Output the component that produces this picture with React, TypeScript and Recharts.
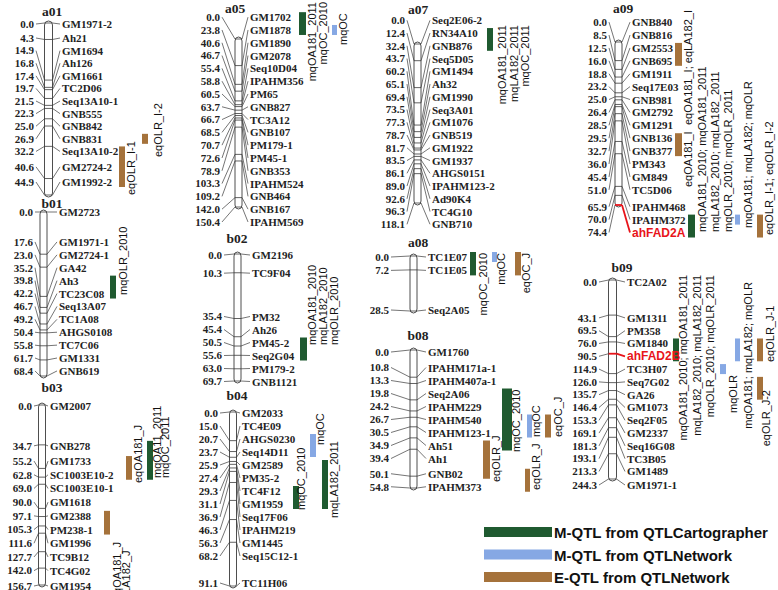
import React from 'react';
import { ComposedChart, XAxis, YAxis, Scatter, ReferenceArea } from 'recharts';

const W = 778;
const H = 590;

// ---------------- data ----------------
const a01Markers = ['GM1971-2', 'Ah21', 'GM1694', 'Ah126', 'GM1661', 'TC2D06', 'Seq13A10-1', 'GNB555', 'GNB842', 'GNB831', 'Seq13A10-2', 'GM2724-2', 'GM1992-2'];
const a01Pos = [0.0, 4.3, 14.9, 16.8, 17.4, 19.7, 21.5, 22.3, 25.0, 26.9, 32.2, 40.6, 44.9];

const b01Markers = ['GM2723', 'GM1971-1', 'GM2724-1', 'GA42', 'Ah3', 'TC23C08', 'Seq13A07', 'TC1A08', 'AHGS0108', 'TC7C06', 'GM1331', 'GNB619'];
const b01Pos = [0.0, 17.6, 23.0, 35.2, 39.8, 42.2, 46.7, 49.2, 50.4, 55.8, 61.7, 68.4];

const b03Markers = ['GM2007', 'GNB278', 'GM1733', 'SC1003E10-2', 'SC1003E10-1', 'GM1618', 'GM2388', 'PM238-1', 'GM1996', 'TC9B12', 'TC4G02', 'GM1954'];
const b03Pos = [0.0, 34.7, 55.2, 62.8, 69.0, 90.0, 97.1, 105.3, 111.6, 127.7, 142.0, 156.7];

const a05Markers = ['GM1702', 'GM1878', 'GM1890', 'GM2078', 'Seq10D04', 'IPAHM356', 'PM65', 'GNB827', 'TC3A12', 'GNB107', 'PM179-1', 'PM45-1', 'GNB353', 'IPAHM524', 'GNB464', 'GNB167', 'IPAHM569'];
const a05Pos = [0.0, 23.8, 40.6, 46.7, 55.4, 58.8, 60.5, 63.7, 66.7, 68.5, 70.7, 72.6, 78.9, 103.3, 109.2, 142.0, 150.4];

const b02Markers = ['GM2196', 'TC9F04', 'PM32', 'Ah26', 'PM45-2', 'Seq2G04', 'PM179-2', 'GNB1121'];
const b02Pos = [0.0, 10.3, 35.4, 45.4, 50.5, 55.6, 63.0, 69.7];

const b04Markers = ['GM2033', 'TC4E09', 'AHGS0230', 'Seq14D11', 'GM2589', 'PM35-2', 'TC4F12', 'GM1959', 'Seq17F06', 'IPAHM219', 'GM1445', 'Seq15C12-1', 'TC11H06'];
const b04Pos = [0.0, 15.0, 20.7, 23.7, 25.9, 27.4, 29.3, 31.1, 36.9, 46.3, 56.3, 68.2, 91.1];

const a07Markers = ['Seq2E06-2', 'RN34A10', 'GNB876', 'Seq5D05', 'GM1494', 'Ah32', 'GM1990', 'Seq3A01', 'GM1076', 'GNB519', 'GM1922', 'GM1937', 'AHGS0151', 'IPAHM123-2', 'Ad90K4', 'TC4G10', 'GNB710'];
const a07Pos = [0.0, 12.4, 32.4, 43.7, 60.2, 65.1, 69.4, 73.5, 77.3, 78.7, 81.7, 83.5, 86.1, 89.0, 92.6, 96.3, 118.1];

const a08Markers = ['TC1E07', 'TC1E05', 'Seq2A05'];
const a08Pos = [0.0, 7.2, 28.5];

const b08Markers = ['GM1760', 'IPAHM171a-1', 'IPAHM407a-1', 'Seq2A06', 'IPAHM229', 'IPAHM540', 'IPAHM123-1', 'Ah51', 'Ah1', 'GNB02', 'IPAHM373'];
const b08Pos = [0.0, 10.8, 13.3, 19.8, 24.2, 26.7, 30.5, 34.9, 39.4, 50.1, 54.8];

const a09Markers = ['GNB840', 'GNB816', 'GM2553', 'GNB695', 'GM1911', 'Seq17E03', 'GNB981', 'GM2792', 'GM1291', 'GNB136', 'GNB377', 'PM343', 'GM849', 'TC5D06', 'IPAHM468', 'IPAHM372', 'ahFAD2A'];
const a09Pos = [0.0, 8.5, 12.5, 16.0, 18.8, 23.2, 25.0, 26.4, 28.5, 29.5, 32.7, 36.0, 45.4, 51.0, 65.9, 70.0, 74.4];

const b09Markers = ['TC2A02', 'GM1311', 'PM358', 'GM1840', 'ahFAD2B', 'TC3H07', 'Seq7G02', 'GA26', 'GM1073', 'Seq2F05', 'GM2337', 'Seq16G08', 'TC3B05', 'GM1489', 'GM1971-1'];
const b09Pos = [0.0, 43.1, 69.5, 76.0, 90.5, 114.9, 126.0, 135.7, 146.4, 153.3, 169.1, 181.3, 193.1, 213.3, 244.3];

const highlightGenes = ['ahFAD2A', 'ahFAD2B'];

type QtlKind = 'cart' | 'net' | 'e';
interface Qtl { from: string; to: string; kind: QtlKind; text: string[] }

const a01Qtl: Qtl[] = [
  { from: 'Seq13A10-2', to: 'GM1992-2', kind: 'e', text: ['eqOLR_I-1'] },
  { from: 'GNB831', to: 'GNB831', kind: 'e', text: ['eqOLR_I-2'] },
];
const b01Qtl: Qtl[] = [
  { from: 'Ah3', to: 'TC23C08', kind: 'cart', text: ['mqOLR_2010'] },
];
const b03Qtl: Qtl[] = [
  { from: 'GM1733', to: 'SC1003E10-2', kind: 'e', text: ['eqOA181_J'] },
  { from: 'GNB278', to: 'SC1003E10-2', kind: 'cart', text: ['mqOA11_2011', 'mqOC_2011'] },
  { from: 'GM2388', to: 'PM238-1', kind: 'e', text: ['eqOA181_J', 'eLA182_J'] },
];
const a05Qtl: Qtl[] = [
  { from: 'GM1702', to: 'GM1878', kind: 'cart', text: ['mqOA181_2011', 'mqOC_2010'] },
  { from: 'GM1878', to: 'GM1878', kind: 'net', text: ['mqOC'] },
];
const b02Qtl: Qtl[] = [
  { from: 'PM45-2', to: 'Seq2G04', kind: 'cart', text: ['mqOA181_2010', 'mqLA182_2010', 'mqOLR_2010'] },
];
const b04Qtl: Qtl[] = [
  { from: 'TC4F12', to: 'GM1959', kind: 'cart', text: ['mqOC_2010'] },
  { from: 'AHGS0230', to: 'Seq14D11', kind: 'net', text: ['mqOC'] },
  { from: 'GM2589', to: 'GM1959', kind: 'cart', text: ['mqLA182_2011'] },
];
const a07Qtl: Qtl[] = [
  { from: 'RN34A10', to: 'GNB876', kind: 'cart', text: ['mqOA181_2011', 'mqLA182_2011', 'mqOC_2011'] },
];
const a08Qtl: Qtl[] = [
  { from: 'TC1E07', to: 'TC1E05', kind: 'cart', text: ['mqOC_2010'] },
  { from: 'TC1E07', to: 'TC1E07', kind: 'net', text: ['mqOC'] },
  { from: 'TC1E07', to: 'TC1E05', kind: 'e', text: ['eqOC_J'] },
];
const b08Qtl: Qtl[] = [
  { from: 'Seq2A06', to: 'Ah51', kind: 'cart', text: ['mqOC_2010'] },
  { from: 'IPAHM540', to: 'IPAHM123-1', kind: 'net', text: ['mqOC'] },
  { from: 'IPAHM540', to: 'IPAHM123-1', kind: 'e', text: ['eqOC_J'] },
  { from: 'Ah51', to: 'GNB02', kind: 'e', text: ['eqOLR_J'] },
  { from: 'GNB02', to: 'IPAHM373', kind: 'e', text: ['eqOLR_J'] },
];
const a09Qtl: Qtl[] = [
  { from: 'GM2553', to: 'GNB695', kind: 'e', text: ['eqOA181_I; eqLA182_I'] },
  { from: 'GNB136', to: 'GNB377', kind: 'e', text: ['eqOA181_I'] },
  { from: 'IPAHM372', to: 'ahFAD2A', kind: 'cart', text: ['mqOA181_2010; mqOA181_2011', 'mqLA182_2010; mqLA182_2011', 'mqOLR_2010; mqOLR_2011'] },
  { from: 'IPAHM372', to: 'IPAHM372', kind: 'net', text: ['mqOA181; mqLA182; mqOLR'] },
  { from: 'IPAHM372', to: 'ahFAD2A', kind: 'e', text: ['eqOLR_I-1; eqOLR_I-2'] },
];
const b09Qtl: Qtl[] = [
  { from: 'GM1840', to: 'ahFAD2B', kind: 'cart', text: ['mqOA181_2010; mqOA181_2011', 'mqLA182_2010; mqLA182_2011', 'mqOLR_2010; mqOLR_2011'] },
  { from: 'TC3H07', to: 'TC3H07', kind: 'net', text: ['mqOLR'] },
  { from: 'GM1840', to: 'ahFAD2B', kind: 'net', text: ['mqOA181; mqLA182; mqOLR'] },
  { from: 'GM1840', to: 'ahFAD2B', kind: 'e', text: ['eqOLR_J-1'] },
  { from: 'Seq7G02', to: 'GA26', kind: 'e', text: ['eqOLR_J-2'] },
];

const legendLabels = ['M-QTL from QTLCartographer', 'M-QTL from QTLNetwork', 'E-QTL from QTLNetwork'];
const legendKinds: QtlKind[] = ['cart', 'net', 'e'];

// ---------------- styles / layout ----------------
const kindColor: Record<QtlKind, string> = { cart: '#1f5a30', net: '#86a8e4', e: '#a5723b' };
const RED = '#e8141a';
const LINE = '#3a3a3a';
const SERIF = "'Liberation Serif', 'Times New Roman', serif";
const SANS = "'Liberation Sans', Arial, sans-serif";

interface QPlace { x: number; w: number; tx: number; sp?: number; ty: number; a: 'start' | 'end' }
interface GLayout {
  cx: number; cw: number; top: number; bottom: number; // chromosome (axis) extent in px
  lt: number; lb: number; gap: number; minY?: number; maxY?: number; // label layout
  cmRight: number; nameLeft: number; titleX: number; titleY: number; q: QPlace[];
}

const layout: Record<string, GLayout> = {
  a01: { cx: 48.5, cw: 8, top: 23, bottom: 195, lt: 24, lb: 182, gap: 12.6, cmRight: 34, nameLeft: 62, titleX: 52, titleY: 16,
    q: [{ x: 119, w: 6, tx: 135, ty: 195, a: 'start' }, { x: 142, w: 6, tx: 162, ty: 157, a: 'start' }] },
  b01: { cx: 43.5, cw: 7, top: 212, bottom: 376, lt: 212, lb: 357, gap: 12.9, cmRight: 33, nameLeft: 59, titleX: 52, titleY: 208,
    q: [{ x: 110, w: 6, tx: 127, ty: 295, a: 'start' }] },
  b03: { cx: 42, cw: 7, top: 405, bottom: 585, lt: 406, lb: 586, gap: 13.7, cmRight: 32, nameLeft: 50, titleX: 52, titleY: 392,
    q: [{ x: 126, w: 6, tx: 142, ty: 483, a: 'start' }, { x: 147, w: 6, tx: 161, sp: 8, ty: 478, a: 'start' }, { x: 104, w: 6, tx: 121, sp: 9, ty: 600, a: 'start' }] },
  a05: { cx: 238.5, cw: 7, top: 39, bottom: 207, lt: 39, lb: 209, gap: 12.8, cmRight: 220, nameLeft: 250, titleX: 235, titleY: 13,
    q: [{ x: 299, w: 7, tx: 316, sp: 11, ty: 2, a: 'end' }, { x: 332, w: 5, tx: 347, ty: 45, a: 'start' }] },
  b02: { cx: 237.5, cw: 7, top: 254, bottom: 381, lt: 255, lb: 378, gap: 13, cmRight: 222, nameLeft: 252, titleX: 237, titleY: 243,
    q: [{ x: 300, w: 7, tx: 316, sp: 11, ty: 345, a: 'start' }] },
  b04: { cx: 233, cw: 7, top: 412, bottom: 586, lt: 413, lb: 583, gap: 13, minY: 413, cmRight: 218, nameLeft: 242, titleX: 237, titleY: 400,
    q: [{ x: 293, w: 6, tx: 305, ty: 510, a: 'start' }, { x: 310, w: 6, tx: 324, ty: 445, a: 'start' }, { x: 322, w: 6, tx: 338, ty: 518, a: 'start' }] },
  a07: { cx: 417.5, cw: 7, top: 44, bottom: 203, lt: 42, lb: 181, gap: 12.75, cmRight: 405, nameLeft: 432, titleX: 418, titleY: 14,
    q: [{ x: 487, w: 6, tx: 506, sp: 11.5, ty: 25, a: 'end' }] },
  a08: { cx: 413.5, cw: 7, top: 256, bottom: 311, lt: 257, lb: 310, gap: 13, cmRight: 389, nameLeft: 428, titleX: 418, titleY: 247,
    q: [{ x: 470, w: 6, tx: 487, ty: 253, a: 'end' }, { x: 492, w: 5, tx: 505, ty: 253, a: 'end' }, { x: 515, w: 6, tx: 530, ty: 253, a: 'end' }] },
  b08: { cx: 413.5, cw: 7, top: 350, bottom: 488, lt: 352, lb: 486, gap: 13, cmRight: 389, nameLeft: 428, titleX: 418, titleY: 340,
    q: [{ x: 502, w: 10, tx: 520, ty: 452, a: 'start' }, { x: 527, w: 5, tx: 540, ty: 437, a: 'start' }, { x: 545, w: 6, tx: 562, ty: 437, a: 'start' },
        { x: 483, w: 7, tx: 500, ty: 482, a: 'start' }, { x: 525, w: 5, tx: 540, ty: 490, a: 'start' }] },
  a09: { cx: 618.5, cw: 7, top: 42, bottom: 205, lt: 42, lb: 230.5, gap: 12.9, cmRight: 607, nameLeft: 632, titleX: 623, titleY: 13,
    q: [{ x: 675, w: 7, tx: 692, ty: 125, a: 'start' }, { x: 675, w: 7, tx: 692, ty: 187, a: 'start' },
        { x: 688, w: 7, tx: 706, sp: 13, ty: 232, a: 'start' }, { x: 735, w: 5, tx: 752, ty: 228, a: 'start' }, { x: 757, w: 6, tx: 773, ty: 235, a: 'start' }] },
  b09: { cx: 612.5, cw: 8, top: 280, bottom: 479, lt: 282, lb: 491, gap: 12.8, maxY: 485, cmRight: 597, nameLeft: 627, titleX: 622, titleY: 272,
    q: [{ x: 673, w: 6, tx: 687, sp: 13.5, ty: 275, a: 'end' }, { x: 720, w: 6, tx: 737, ty: 375, a: 'end' },
        { x: 735, w: 5, tx: 752, ty: 282, a: 'end' }, { x: 757, w: 6, tx: 774, ty: 362, a: 'start' }, { x: 757, w: 6, tx: 770, ty: 390, a: 'end' }] },
};

const groups = [
  { id: 'a01', markers: a01Markers, pos: a01Pos, qtl: a01Qtl },
  { id: 'b01', markers: b01Markers, pos: b01Pos, qtl: b01Qtl },
  { id: 'b03', markers: b03Markers, pos: b03Pos, qtl: b03Qtl },
  { id: 'a05', markers: a05Markers, pos: a05Pos, qtl: a05Qtl },
  { id: 'b02', markers: b02Markers, pos: b02Pos, qtl: b02Qtl },
  { id: 'b04', markers: b04Markers, pos: b04Pos, qtl: b04Qtl },
  { id: 'a07', markers: a07Markers, pos: a07Pos, qtl: a07Qtl },
  { id: 'a08', markers: a08Markers, pos: a08Pos, qtl: a08Qtl },
  { id: 'b08', markers: b08Markers, pos: b08Pos, qtl: b08Qtl },
  { id: 'a09', markers: a09Markers, pos: a09Pos, qtl: a09Qtl },
  { id: 'b09', markers: b09Markers, pos: b09Pos, qtl: b09Qtl },
];

// spread labels so they keep a minimum gap; clusters centred on their ideal positions
function spread(ideal: number[], gap: number, minY?: number, maxY?: number): number[] {
  type C = { i0: number; i1: number; top: number };
  const cs: C[] = ideal.map((y, i) => ({ i0: i, i1: i, top: y }));
  let changed = true;
  while (changed) {
    changed = false;
    for (let k = 0; k < cs.length - 1; k++) {
      const a = cs[k];
      const b = cs[k + 1];
      if (b.top - (a.top + (a.i1 - a.i0) * gap) < gap - 1e-6) {
        const i0 = a.i0;
        const i1 = b.i1;
        let s = 0;
        for (let i = i0; i <= i1; i++) s += ideal[i];
        const n = i1 - i0 + 1;
        cs.splice(k, 2, { i0, i1, top: s / n - ((n - 1) * gap) / 2 });
        changed = true;
        break;
      }
    }
  }
  const out: number[] = new Array(ideal.length);
  cs.forEach((c) => {
    for (let i = c.i0; i <= c.i1; i++) out[i] = c.top + (i - c.i0) * gap;
  });
  if (minY !== undefined) {
    out[0] = Math.max(out[0], minY);
    for (let i = 1; i < out.length; i++) out[i] = Math.max(out[i], out[i - 1] + gap);
  }
  if (maxY !== undefined) {
    const n = out.length;
    out[n - 1] = Math.min(out[n - 1], maxY);
    for (let i = n - 2; i >= 0; i--) out[i] = Math.min(out[i], out[i + 1] - gap);
  }
  return out;
}

function ChromShape(p: any) {
  const { x, y, width, height } = p;
  return (
    <rect x={x} y={y - 2} width={width} height={height + 4} rx={width / 2} ry={4}
      fill="none" stroke={LINE} strokeWidth={0.9} />
  );
}

function Group({ id, markers, pos, qtl }: { id: string; markers: string[]; pos: number[]; qtl: Qtl[] }) {
  const g = layout[id];
  const len = pos[pos.length - 1];
  const k = (g.bottom - g.top) / len;
  const kl = (g.lb - g.lt) / len;
  const ly = spread(pos.map((p) => g.lt + p * kl), g.gap, g.minY, g.maxY);
  const rows = markers.map((name, i) => ({ name, cM: pos[i], x: g.cx, ly: ly[i] }));
  const idx = (n: string) => markers.indexOf(n);
  const toCM = (px: number) => (px - g.top) / k;

  const markerShape = (s: any) => {
    const { cx, cy, payload } = s;
    const hl = highlightGenes.includes(payload.name);
    const x0 = cx - g.cw / 2;
    const x1 = cx + g.cw / 2;
    const y = payload.ly;
    return (
      <g>
        <line x1={x0} y1={cy} x2={x1} y2={cy} stroke={hl ? RED : LINE} strokeWidth={hl ? 1.8 : 0.8} />
        <line x1={g.cmRight + 2} y1={y} x2={x0} y2={cy} stroke={LINE} strokeWidth={0.7} />
        <line x1={x1} y1={cy} x2={g.nameLeft - 2} y2={y} stroke={hl ? RED : LINE} strokeWidth={hl ? 1.8 : 0.7} />
        <text x={g.cmRight} y={y + 3.8} textAnchor="end" fontFamily={SERIF} fontWeight="bold" fontSize={11} fill="#222">
          {payload.cM.toFixed(1)}
        </text>
        <text x={g.nameLeft} y={y + 4} fontFamily={hl ? SANS : SERIF} fontWeight="bold" fontSize={hl ? 12 : 11} fill={hl ? RED : '#222'}>
          {payload.name}
        </text>
      </g>
    );
  };

  return (
    <div style={{ position: 'absolute', left: 0, top: 0 }}>
      <ComposedChart width={W} height={H} data={rows} margin={{ top: g.top, bottom: H - g.bottom, left: 0, right: 0 }}>
        <XAxis hide type="number" dataKey="x" domain={[0, W]} />
        <YAxis hide type="number" dataKey="cM" domain={[0, len]} reversed />
        <ReferenceArea x1={g.cx - g.cw / 2} x2={g.cx + g.cw / 2} y1={0} y2={len} ifOverflow="visible" shape={ChromShape} />
        {qtl.map((q, i) => {
          const p = g.q[i];
          const yTop = ly[idx(q.from)] - 5;
          const yBot = ly[idx(q.to)] + 5;
          const shape = (s: any) => (
            <g>
              <rect x={s.x} y={s.y} width={s.width} height={s.height} fill={kindColor[q.kind]} />
              {q.text.map((t, j) => {
                const tx = p.tx + j * (p.sp ?? 12);
                return (
                  <text key={j} transform={`translate(${tx},${p.ty}) rotate(-90)`} textAnchor={p.a}
                    fontFamily={SANS} fontSize={11} fill="#111">{t}</text>
                );
              })}
            </g>
          );
          return (
            <ReferenceArea key={i} x1={p.x} x2={p.x + p.w} y1={toCM(yTop)} y2={toCM(yBot)} ifOverflow="visible" shape={shape} />
          );
        })}
        <Scatter data={rows} dataKey="cM" isAnimationActive={false} shape={markerShape} />
      </ComposedChart>
    </div>
  );
}

export default function App() {
  return (
    <div style={{ position: 'absolute', left: 0, top: 0, width: W, height: H, background: '#fff', overflow: 'hidden' }}>
      {groups.map((gr) => (
        <Group key={gr.id} {...gr} />
      ))}
      <svg width={W} height={H} style={{ position: 'absolute', left: 0, top: 0, pointerEvents: 'none' }}>
        {groups.map((gr) => {
          const g = layout[gr.id];
          return (
            <text key={gr.id} x={g.titleX} y={g.titleY} textAnchor="middle" fontFamily={SERIF} fontWeight="bold" fontSize={13.5} fill="#222">
              {gr.id}
            </text>
          );
        })}
        {legendLabels.map((l, i) => (
          <g key={l}>
            <rect x={484} y={527 + i * 22.5} width={68} height={10} fill={kindColor[legendKinds[i]]} />
            <text x={554} y={538 + i * 22.5} fontFamily={SANS} fontWeight="bold" fontSize={15} fill="#111">{l}</text>
          </g>
        ))}
      </svg>
    </div>
  );
}
